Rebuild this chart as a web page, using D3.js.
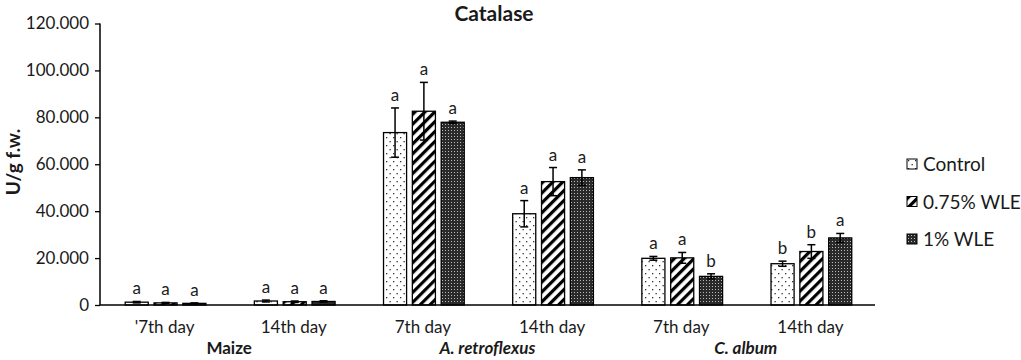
<html>
<head>
<style>
  body{margin:0;background:#fff}
  svg text{font-family:Lato,"Open Sans",sans-serif;fill:#1a1a1a}
</style>
</head>
<body>
<div id="chart"></div>
<script src="https://d3js.org/d3.v7.min.js"></script>
<script>
// chart values
var days     = ["'7th day", "14th day", "7th day", "14th day", "7th day", "14th day"];
var species  = ["Maize", "A. retroflexus", "C. album"];
var series   = ["Control", "0.75% WLE", "1% WLE"];
var yTicks   = [0, 20, 40, 60, 80, 100, 120];

var control     = [1.2, 1.7, 73.5, 38.9, 19.9, 17.6];
var controlErr  = [0.3, 0.4, 10.5, 5.6, 0.8, 1.1];
var controlSig  = ["a", "a", "a", "a", "a", "b"];
var wle075      = [0.9, 1.4, 82.6, 52.6, 20.1, 22.8];
var wle075Err   = [0.2, 0.3, 12.3, 6.0, 2.3, 2.9];
var wle075Sig   = ["a", "a", "a", "a", "a", "b"];
var wle1        = [0.7, 1.5, 77.9, 54.3, 12.2, 28.6];
var wle1Err     = [0.2, 0.3, 0.5, 3.3, 1.1, 1.9];
var wle1Sig     = ["a", "a", "a", "a", "b", "a"];

var values = [control, wle075, wle1];
var errs   = [controlErr, wle075Err, wle1Err];
var sigs   = [controlSig, wle075Sig, wle1Sig];

var W = 1021, H = 360,
    mLeft = 100, mRight = 875, mTop = 23.5, mBottom = 305;

var svg = d3.select('#chart').append('svg')
  .attr('width', W)
  .attr('height', H);

// patterns
var defs = svg.append('defs');

var pDot = defs.append('pattern').attr('id', 'pDot')
  .attr('patternUnits', 'userSpaceOnUse').attr('width', 7).attr('height', 8);
pDot.append('rect').attr('width', 7).attr('height', 8).attr('fill', '#fff');
pDot.append('rect').attr('x', 1).attr('y', 1).attr('width', 1.3).attr('height', 1.3).attr('fill', '#333');
pDot.append('rect').attr('x', 4.5).attr('y', 5).attr('width', 1.3).attr('height', 1.3).attr('fill', '#333');

var pStripe = defs.append('pattern').attr('id', 'pStripe')
  .attr('patternUnits', 'userSpaceOnUse').attr('width', 7).attr('height', 7)
  .attr('patternTransform', 'rotate(45)');
pStripe.append('rect').attr('width', 7).attr('height', 7).attr('fill', '#fff');
pStripe.append('rect').attr('x', 0).attr('width', 3.2).attr('height', 7).attr('fill', '#000');

var pDense = defs.append('pattern').attr('id', 'pDense')
  .attr('patternUnits', 'userSpaceOnUse').attr('width', 3).attr('height', 3);
pDense.append('rect').attr('width', 3).attr('height', 3).attr('fill', '#2a2a2a');
pDense.append('rect').attr('x', 1).attr('y', 1).attr('width', 1).attr('height', 1).attr('fill', '#bbb');

var fills = ['url(#pDot)', 'url(#pStripe)', 'url(#pDense)'];

// scales
var x = d3.scaleBand()
  .domain(d3.range(days.length))
  .range([mLeft, mRight]);

var xs = d3.scaleBand()
  .domain(d3.range(series.length))
  .range([x.bandwidth() * 0.195, x.bandwidth() * 0.82])
  .paddingInner(0.2);

var y = d3.scaleLinear()
  .domain([0, 120])
  .range([mBottom, mTop]);

// title
svg.append('text')
  .attr('x', 494).attr('y', 21)
  .attr('text-anchor', 'middle')
  .style('font-size', '21px').style('font-weight', 'bold')
  .text('Catalase');

// y axis
var yAxis = svg.append('g')
  .attr('transform', 'translate(' + mLeft + ',0)')
  .call(d3.axisLeft(y).tickValues(yTicks).tickSize(5).tickPadding(6)
    .tickFormat(function (d) { return d === 0 ? '0' : d3.format('.3f')(d); }));
yAxis.select('.domain').attr('stroke', '#000').attr('stroke-width', 1.5).attr('d', 'M0,' + y(120) + 'V' + y(0));
yAxis.selectAll('.tick line').attr('stroke', '#000').attr('stroke-width', 1.3);
yAxis.selectAll('.tick text').style('font-size', '17px').style('font-family', 'Lato,sans-serif').attr('fill', '#1a1a1a');

svg.append('text')
  .attr('transform', 'translate(20,162) rotate(-90)')
  .attr('text-anchor', 'middle')
  .style('font-size', '19px').style('font-weight', 'bold')
  .text('U/g f.w.');

// bars
var groups = svg.append('g');
series.forEach(function (s, si) {
  var g = groups.append('g');
  var rows = days.map(function (d, i) {
    return { i: i, v: values[si][i], e: errs[si][i], s: sigs[si][i] };
  });
  g.selectAll('rect').data(rows).enter().append('rect')
    .attr('x', function (d) { return x(d.i) + xs(si); })
    .attr('y', function (d) { return y(d.v); })
    .attr('width', xs.bandwidth())
    .attr('height', function (d) { return y(0) - y(d.v); })
    .attr('fill', fills[si])
    .attr('stroke', '#000')
    .attr('stroke-width', 1.3);

  var eb = g.selectAll('g.err').data(rows).enter().append('g').attr('class', 'err')
    .attr('transform', function (d) { return 'translate(' + (x(d.i) + xs(si) + xs.bandwidth() / 2) + ',0)'; });
  eb.append('line')
    .attr('y1', function (d) { return y(d.v + d.e); })
    .attr('y2', function (d) { return y(d.v - d.e); })
    .attr('stroke', '#000').attr('stroke-width', 1.5);
  eb.append('line')
    .attr('x1', -4).attr('x2', 4)
    .attr('y1', function (d) { return y(d.v + d.e); })
    .attr('y2', function (d) { return y(d.v + d.e); })
    .attr('stroke', '#000').attr('stroke-width', 1.5);
  eb.append('line')
    .attr('x1', -4).attr('x2', 4)
    .attr('y1', function (d) { return y(d.v - d.e); })
    .attr('y2', function (d) { return y(d.v - d.e); })
    .attr('stroke', '#000').attr('stroke-width', 1.5);
  eb.append('text')
    .attr('y', function (d) { return y(d.v + d.e) - 7; })
    .attr('text-anchor', 'middle')
    .style('font-size', '17px').attr('fill', '#333')
    .text(function (d) { return d.s; });
});

// x axis line
svg.append('line')
  .attr('x1', mLeft).attr('x2', mRight)
  .attr('y1', y(0)).attr('y2', y(0))
  .attr('stroke', '#000').attr('stroke-width', 1.5);

// day labels
svg.append('g').selectAll('text').data(days).enter().append('text')
  .attr('x', function (d, i) { return x(i) + x.bandwidth() / 2; })
  .attr('y', 333)
  .attr('text-anchor', 'middle')
  .style('font-size', '17px')
  .text(function (d) { return d; });

// species labels
svg.append('g').selectAll('text').data(species).enter().append('text')
  .attr('x', function (d, i) { return x(i * 2 + 1); })
  .attr('y', 354)
  .attr('text-anchor', 'middle')
  .style('font-size', '17px').style('font-weight', 'bold')
  .style('font-style', function (d, i) { return i === 0 ? 'normal' : 'italic'; })
  .text(function (d) { return d; });

// legend
var legend = svg.append('g').selectAll('g').data(series).enter().append('g')
  .attr('transform', function (d, i) { return 'translate(907,' + (159 + i * 37.5) + ')'; });
legend.append('rect')
  .attr('width', 10).attr('height', 10)
  .attr('fill', function (d, i) { return fills[i]; })
  .attr('stroke', '#000').attr('stroke-width', 1);
legend.append('text')
  .attr('x', 16).attr('y', 12)
  .style('font-size', '19px')
  .text(function (d) { return d; });
</script>
</body>
</html>
